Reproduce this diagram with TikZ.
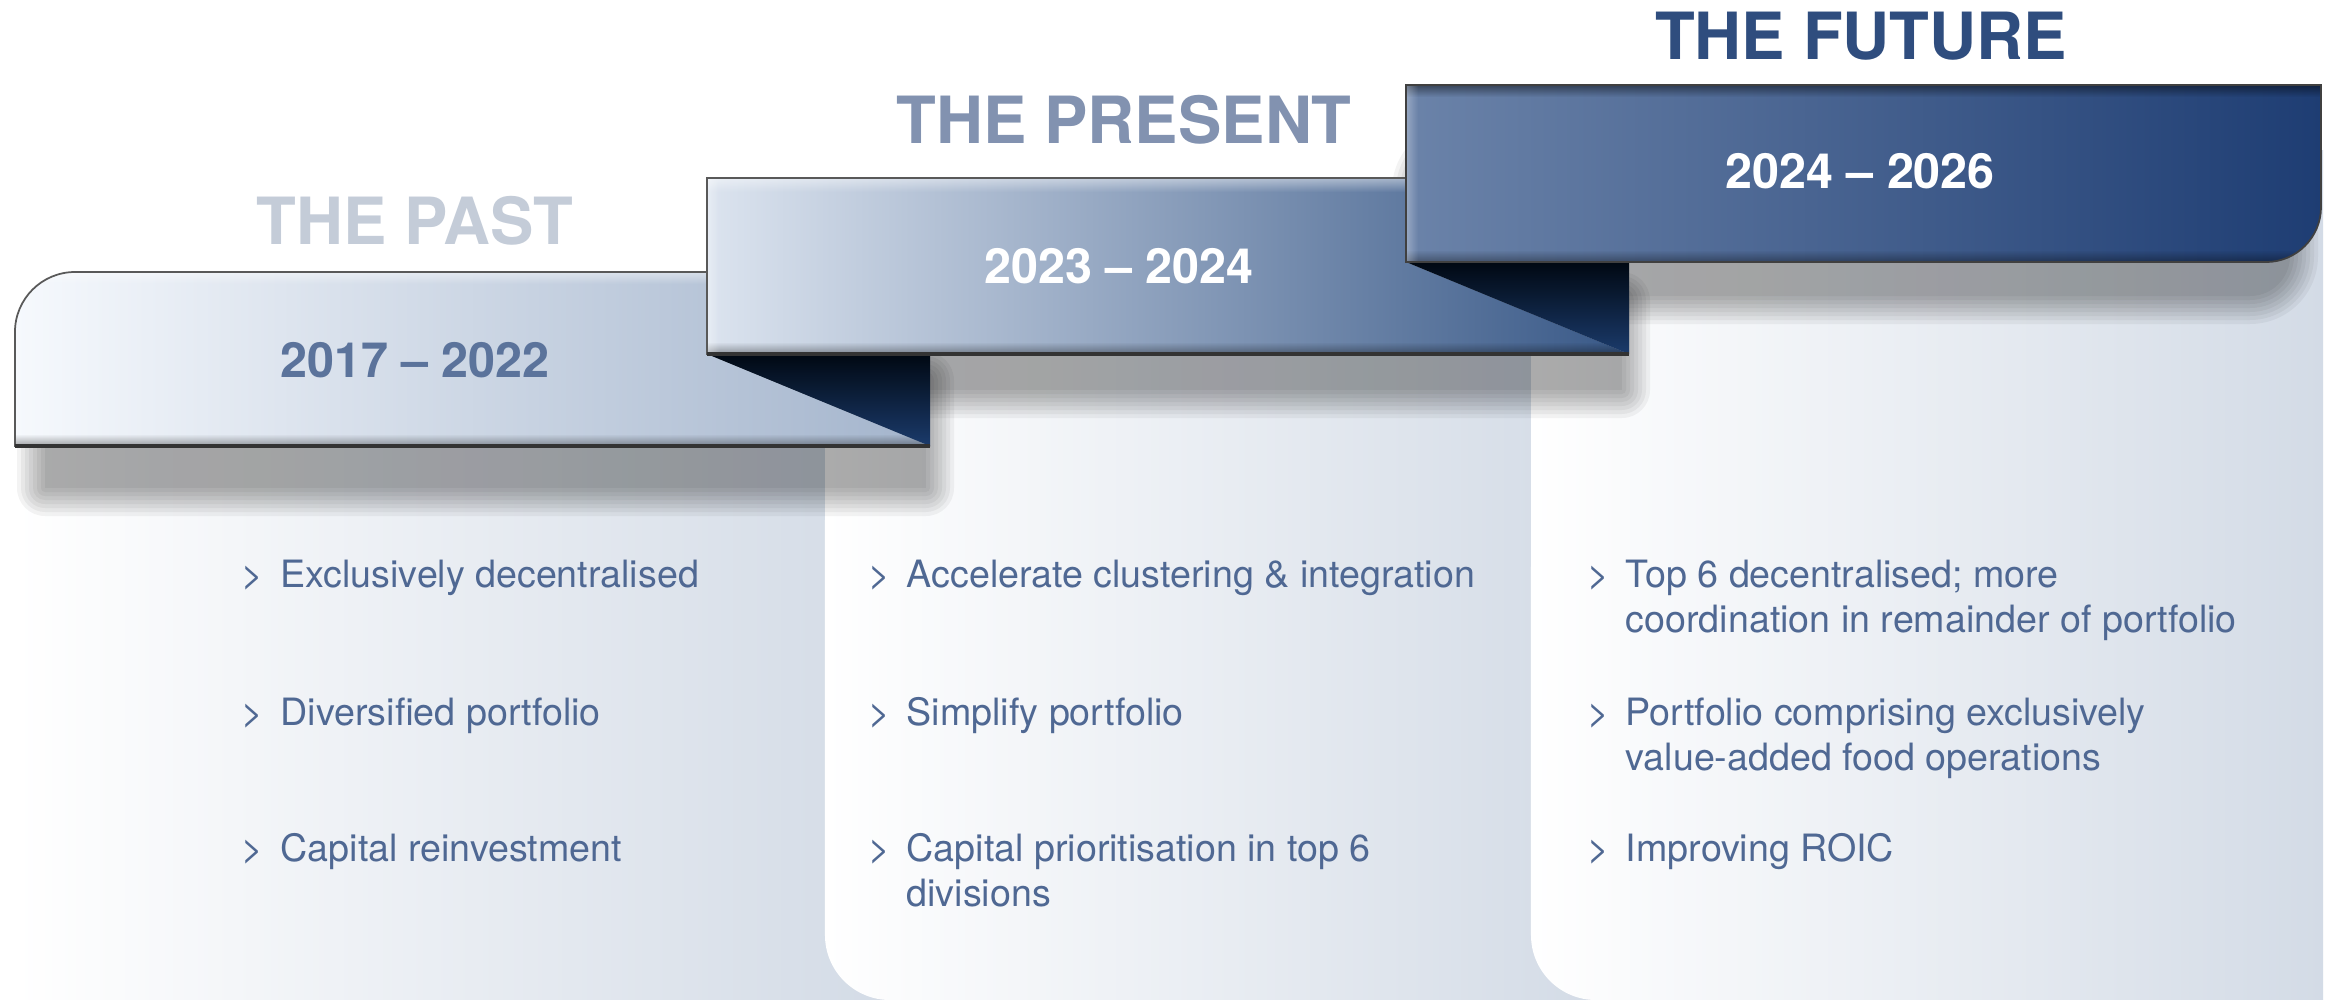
\documentclass[tikz,border=0pt]{standalone}
\usepackage{fontspec}
\setmainfont{TeX Gyre Heros}
\usetikzlibrary{fadings}

\definecolor{cardblue}{HTML}{D3DBE6}
\definecolor{pastL}{HTML}{F6F9FD}
\definecolor{pastR}{HTML}{A3B4CC}
\definecolor{presL}{HTML}{DCE4EF}
\definecolor{presM}{HTML}{8A9CB9}
\definecolor{presR}{HTML}{385887}
\definecolor{futL}{HTML}{6B83A9}
\definecolor{futM}{HTML}{3F5D8C}
\definecolor{futR}{HTML}{1E3D73}
\definecolor{foldTop}{HTML}{000812}
\definecolor{foldBot}{HTML}{1B3B6C}
\definecolor{titlePast}{HTML}{C4CCD8}
\definecolor{titlePres}{HTML}{8292B0}
\definecolor{titleFut}{HTML}{2F4D7E}
\definecolor{yearPast}{HTML}{5B739B}
\definecolor{itemblue}{HTML}{4F6893}

% soft shadow: stacked translucent boxes growing outward from a core box
% #1,#2 = top-left corner, #3,#4 = bottom-right corner, #5 = corner radius
\newcommand\softshadow[5]{%
  \foreach \i in {0,...,7}{%
    \pgfmathsetmacro\rr{(#5+\i*4)*0.2845276}%
    \fill[black, fill opacity=0.047, rounded corners=\rr pt]
      (#1-\i*4,#2-\i*4) rectangle (#3+\i*4,#4+\i*4);
  }}

\begin{document}
\begin{tikzpicture}[x=0.01cm, y=-0.01cm,
  card/.style={left color=white, right color=cardblue},
  fold/.style={top color=foldTop, bottom color=foldBot},
  rim/.style={draw=black!65, line width=0.5pt},
  highlight/.style={fill=white, fill opacity=0.45, path fading=south},
  lowlight/.style={fill=black, fill opacity=0.35, path fading=north},
  title/.style={font=\fontsize{18.5}{20}\selectfont\bfseries, anchor=base, inner sep=0pt},
  year/.style={font=\fontsize{13.8}{16}\selectfont\bfseries, anchor=base, inner sep=0pt},
  item/.style={font=\fontsize{10.7}{12.8}\selectfont, text=itemblue, anchor=base west, inner sep=0pt},
]
% canvas
\useasboundingbox (0,0) rectangle (2330,1000);
\fill[white] (0,0) rectangle (2330,1000);

% ---------- content cards ----------
\shade[card] (15,446) rectangle (890,1000);
\shade[card] (825,354) -- (1600,354) -- (1600,1000) -- (890,1000)
  arc[start angle=-90, end angle=-180, radius=0.65cm] -- cycle;
\shade[card] (1531,150) -- (2323,150) -- (2323,1000) -- (1596,1000)
  arc[start angle=-90, end angle=-180, radius=0.65cm] -- cycle;

% ---------- drop shadows ----------
\softshadow{45}{380}{926}{488}{0}
\softshadow{720}{300}{1622}{390}{0}
\softshadow{1420}{150}{2290}{296}{40}

% ---------- banner 2017-2022 ----------
\shade[left color=pastL, right color=pastR]
  (15,446) -- (15,332) arc[start angle=180, end angle=90, radius=0.6cm]
  -- (707,272) -- (707,354) -- (930,446) -- cycle;
\begin{scope}
  \clip (15,446) -- (15,332) arc[start angle=180, end angle=90, radius=0.6cm]
    -- (707,272) -- (707,354) -- (930,446) -- cycle;
  \fill[highlight] (15,272) rectangle (707,284);
  \fill[lowlight] (15,434) rectangle (930,446);
\end{scope}
\shade[fold] (707,354) -- (930,354) -- (930,446) -- cycle;
\draw[rim] (707,272) -- (75,272) arc[start angle=90, end angle=180, radius=0.6cm]
  -- (15,446) -- (930,446);
\draw[black!80, line width=0.9pt] (15,446) -- (930,446);

% ---------- banner 2023-2024 ----------
\shade[left color=presL, middle color=presM, right color=presR]
  (707,354) -- (707,178) -- (1406,178) -- (1406,262) -- (1629,354) -- cycle;
\begin{scope}
  \clip (707,354) -- (707,178) -- (1406,178) -- (1406,262) -- (1629,354) -- cycle;
  \fill[highlight] (707,178) rectangle (1406,192);
  \fill[lowlight] (707,342) rectangle (1629,354);
  \fill[white, fill opacity=0.35, path fading=east] (707,178) rectangle (719,354);
\end{scope}
\shade[fold] (1406,262) -- (1629,262) -- (1629,354) -- cycle;
\draw[rim] (1406,178) -- (707,178) -- (707,354) -- (1629,354);
\draw[black!80, line width=0.9pt] (707,354) -- (1629,354);

% ---------- banner 2024-2026 ----------
\shade[left color=futL, middle color=futM, right color=futR]
  (1406,262) -- (1406,85) -- (2321,85) -- (2321,207)
  arc[start angle=0, end angle=-90, radius=0.55cm] -- cycle;
\begin{scope}
  \clip (1406,262) -- (1406,85) -- (2321,85) -- (2321,207)
    arc[start angle=0, end angle=-90, radius=0.55cm] -- cycle;
  \fill[black, fill opacity=0.45, path fading=south] (1406,85) rectangle (2321,97);
  \fill[lowlight] (1406,250) rectangle (2321,262);
  \fill[white, fill opacity=0.30, path fading=east] (1406,85) rectangle (1418,262);
\end{scope}
\draw[rim, draw=black!75] (1406,262) -- (1406,85) -- (2321,85) -- (2321,207)
  arc[start angle=0, end angle=-90, radius=0.55cm] -- cycle;

% ---------- headings ----------
\node[title, text=titlePast] (tPast) at (415,244) {THE PAST};
\node[title, text=titlePres] (tPres) at (1124,143) {THE PRESENT};
\node[title, text=titleFut]  (tFut)  at (1861,60)  {THE FUTURE};

\node[year, text=yearPast] (yPast) at (415,377)  {2017 -- 2022};
\node[year, text=white]    (yPres) at (1119,283) {2023 -- 2024};
\node[year, text=white]    (yFut)  at (1860,188) {2024 -- 2026};

% ---------- column 1 ----------
\node[item] (g11) at (241,587) {>};
\node[item] (a11) at (280,587) {Exclusively decentralised};
\node[item] (g12) at (241,725) {>};
\node[item] (a12) at (280,725) {Diversified portfolio};
\node[item] (g13) at (241,861) {>};
\node[item] (a13) at (280,861) {Capital reinvestment};

% ---------- column 2 ----------
\node[item] (g21) at (868,587) {>};
\node[item] (a21) at (906,587) {Accelerate clustering \& integration};
\node[item] (g22) at (868,725) {>};
\node[item] (a22) at (906,725) {Simplify portfolio};
\node[item] (g23) at (868,861) {>};
\node[item] (a23) at (906,861) {Capital prioritisation in top 6};
\node[item] (a23b) at (906,906) {divisions};

% ---------- column 3 ----------
\node[item] (g31) at (1587,587) {>};
\node[item] (a31) at (1625,587) {Top 6 decentralised; more};
\node[item] (a31b) at (1625,632) {coordination in remainder of portfolio};
\node[item] (g32) at (1587,725) {>};
\node[item] (a32) at (1625,725) {Portfolio comprising exclusively};
\node[item] (a32b) at (1625,770) {value-added food operations};
\node[item] (g33) at (1587,861) {>};
\node[item] (a33) at (1625,861) {Improving ROIC};
\end{tikzpicture}
\end{document}
